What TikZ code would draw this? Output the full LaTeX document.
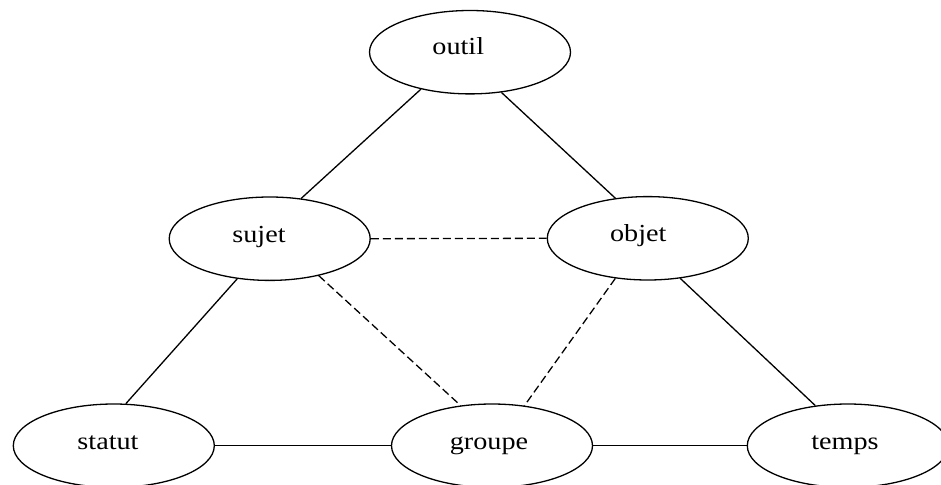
\documentclass[tikz,border=0pt]{standalone}
\usepackage{fontspec}
\setmainfont{Liberation Serif}[FakeStretch=1.15]
\usetikzlibrary{shapes.geometric}
\begin{document}
\begin{tikzpicture}[x=1pt,y=-1pt,
  ell/.style={draw, ellipse, line width=1.3pt, minimum width=201pt, minimum height=83.4pt, inner sep=0pt},
  lbl/.style={anchor=base, inner sep=0pt, font=\fontsize{24.5}{24.5}\selectfont},
  link/.style={line width=1.3pt},
  dlink/.style={line width=1.3pt, dash pattern=on 8pt off 4pt}]
\useasboundingbox (0,0) rectangle (941,484);
\node[ell] (outil)  at (470,52.2)   {};
\node[ell] (sujet)  at (269.7,238.7) {};
\node[ell] (objet)  at (647.8,238.3) {};
\node[ell] (statut) at (113.8,445.7) {};
\node[ell] (groupe) at (492,445.7)   {};
\node[ell] (temps)  at (847.8,445.7) {};
\node[lbl] (outiltxt)  at (458.3,54.3) {outil};
\node[lbl] (sujettxt)  at (259,242.5)  {sujet};
\node[lbl] (objettxt)  at (638.3,241.7) {objet};
\node[lbl] (statuttxt) at (108,449.3)  {statut};
\node[lbl] (groupetxt) at (489,449.5)  {groupe};
\node[lbl] (tempstxt)  at (845,449)    {temps};
\draw[link] (outil.217) -- (sujet.52);
\draw[link] (outil.308) -- (objet.129);
\draw[dlink] (sujet.east) -- (objet.west);
\draw[link] (sujet.231) -- (statut.74);
\draw[dlink] (sujet.323) -- (groupe.128);
\draw[dlink] (objet.231) -- (groupe.51);
\draw[link] (objet.309) -- (temps.129);
\draw[link] (statut.east) -- (groupe.west);
\draw[link] (groupe.east) -- (temps.west);
\end{tikzpicture}
\end{document}
